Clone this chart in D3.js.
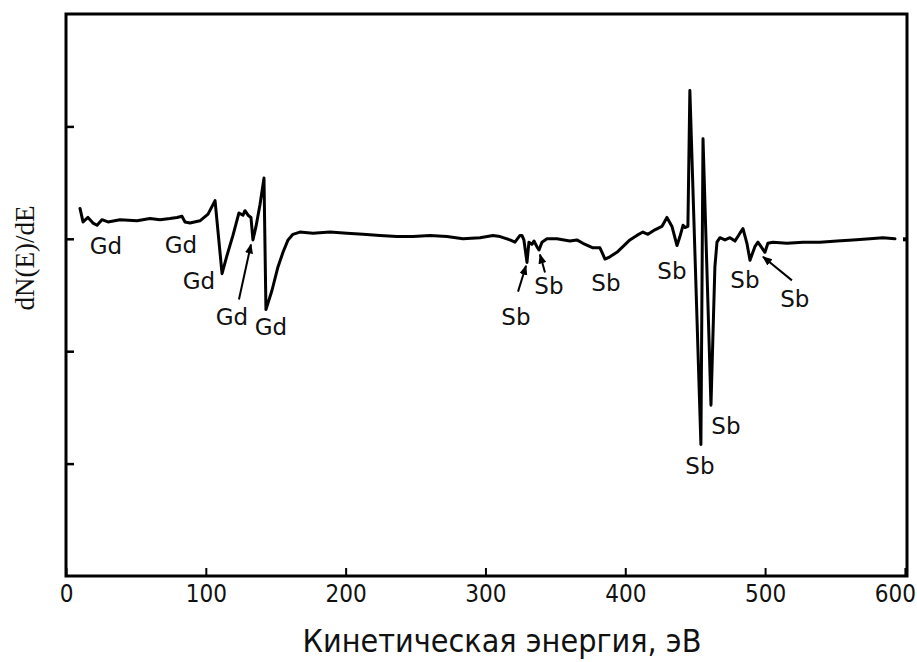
<!DOCTYPE html>
<html>
<head>
<meta charset="utf-8">
<script src="https://cdn.jsdelivr.net/npm/d3@7"></script>
<style>
    body { margin: 0; background: #fff; }
    svg { display: block; }
</style>
</head>
<body>
<svg></svg>
<script>
(() => {
    const energy = [10.0, 12.2, 15.7, 19.3, 22.2, 25.7, 30.0, 38.6, 50.8, 60.1, 67.2, 74.4, 79.4, 83.0, 85.1, 88.7,
        95.8, 101.6, 106.6, 111.6, 115.1, 119.4, 123.7, 126.6, 128.0, 130.2, 132.3, 133.7, 135.9, 138.7, 141.6, 143.0,
        147.3, 151.6, 155.2, 158.8, 162.3, 167.3, 176.6, 188.8, 201.0, 212.4, 224.6, 236.7, 248.2, 260.3, 272.5, 283.9,
        296.1, 305.4, 310.4, 317.5, 321.1, 324.7, 326.1, 327.5, 329.7, 331.1, 333.2, 334.7, 336.8, 338.3, 340.4, 344.0,
        351.1, 360.4, 365.4, 369.7, 376.9, 381.9, 385.5, 389.0, 394.0, 398.3, 403.3, 408.3, 412.6, 416.2, 421.2, 426.2,
        429.8, 433.4, 437.0, 439.1, 441.3, 442.7, 444.8, 446.2, 454.1, 455.6, 461.3, 464.1, 465.6, 467.7, 471.3, 474.9,
        478.5, 482.0, 484.2, 487.0, 489.2, 492.7, 494.9, 497.7, 499.9, 502.0, 505.6, 515.6, 527.1, 539.2, 551.4, 562.8,
        575.0, 584.3, 592.9];

    const signal = [3.27, 3.15, 3.19, 3.14, 3.12, 3.17, 3.15, 3.17, 3.16, 3.18, 3.17, 3.18, 3.19, 3.20, 3.15, 3.14,
        3.16, 3.22, 3.34, 2.69, 2.85, 3.03, 3.23, 3.21, 3.25, 3.21, 3.19, 2.99, 3.11, 3.30, 3.54, 2.37,
        2.54, 2.75, 2.88, 2.99, 3.04, 3.06, 3.05, 3.06, 3.05, 3.04, 3.03, 3.02, 3.02, 3.03, 3.02, 3.00,
        3.01, 3.03, 3.02, 2.99, 2.97, 3.03, 3.03, 2.99, 2.79, 2.97, 2.95, 2.98, 2.93, 2.90, 2.97, 3.00,
        3.00, 2.98, 2.99, 2.96, 2.92, 2.92, 2.82, 2.84, 2.88, 2.93, 2.99, 3.03, 3.06, 3.04, 3.08, 3.11,
        3.19, 3.11, 2.94, 3.02, 3.12, 3.10, 3.11, 4.32, 1.17, 3.89, 1.52, 2.75, 2.97, 3.01, 2.99, 3.01,
        2.98, 3.05, 3.09, 2.96, 2.81, 2.93, 2.97, 2.92, 2.88, 2.96, 2.97, 2.96, 2.97, 2.97, 2.98, 2.99,
        3.00, 3.01, 3.00];

    const xTicks = [0, 100, 200, 300, 400, 500, 600];
    const yTicks = [1, 2, 3, 4];

    // peak labels: element, energy, level
    const peakLabels = ["Gd", "Gd", "Gd", "Gd", "Gd", "Sb", "Sb", "Sb", "Sb", "Sb", "Sb", "Sb", "Sb"];
    const peakLabelX = [28.6, 82.2, 95.1, 118.7, 146.6, 321.8, 345.4, 386.2, 433.4, 453.4, 472.0, 485.6, 521.3];
    const peakLabelY = [2.94, 2.95, 2.63, 2.31, 2.22, 2.31, 2.58, 2.61, 2.72, 0.98, 1.34, 2.64, 2.47];

    // arrows: [fromX, fromY, toX, toY]
    const arrows = [
        [123.7, 2.46, 132.3, 2.95],
        [323.3, 2.53, 329.0, 2.76],
        [342.6, 2.70, 339.0, 2.86],
        [519.2, 2.63, 498.5, 2.84]
    ];

    const width = 917;
    const height = 662;
    const margin = { top: 14, right: 10, bottom: 86, left: 66 };

    const xScale = d3.scaleLinear()
        .domain([0, 601.5])
        .range([margin.left, width - margin.right]);

    const yScale = d3.scaleLinear()
        .domain([0, 5])
        .range([height - margin.bottom, margin.top]);

    const svg = d3.select("svg")
        .attr("width", width)
        .attr("height", height);

    svg.append("defs")
        .append("marker")
        .attr("id", "arrowhead")
        .attr("viewBox", "0 0 10 10")
        .attr("refX", 9)
        .attr("refY", 5)
        .attr("markerWidth", 5)
        .attr("markerHeight", 5)
        .attr("markerUnits", "strokeWidth")
        .attr("orient", "auto")
        .append("path")
        .attr("d", "M0,1 L10,5 L0,9 Z")
        .attr("fill", "#000");

    const xAxis = d3.axisBottom(xScale)
        .tickValues(xTicks)
        .tickSizeInner(-8)
        .tickSizeOuter(0)
        .tickPadding(9);

    const gx = svg.append("g")
        .attr("transform", `translate(0, ${yScale(0)})`)
        .call(xAxis);
    gx.select(".domain").remove();
    gx.selectAll("line").attr("stroke", "#000").attr("stroke-width", 2);
    gx.selectAll("text")
        .attr("fill", "#111")
        .attr("dx", d => d === 600 ? -10 : 0)
        .style("font-family", "'Liberation Sans Narrow', 'DejaVu Sans Condensed', sans-serif")
        .style("font-size", "24px");

    const gy = svg.append("g")
        .attr("transform", `translate(${xScale(0)}, 0)`)
        .call(d3.axisLeft(yScale).tickValues(yTicks).tickSizeInner(-8).tickSizeOuter(0).tickFormat(""));
    gy.select(".domain").remove();
    gy.selectAll("line").attr("stroke", "#000").attr("stroke-width", 2.5);

    const gr = svg.append("g")
        .attr("transform", `translate(${xScale(601.5)}, 0)`)
        .call(d3.axisRight(yScale).tickValues([3]).tickSizeInner(-4).tickSizeOuter(0).tickFormat(""));
    gr.select(".domain").remove();
    gr.selectAll("line").attr("stroke", "#000").attr("stroke-width", 4);

    // frame
    svg.append("rect")
        .attr("x", xScale(0))
        .attr("y", yScale(5))
        .attr("width", xScale(601.5) - xScale(0))
        .attr("height", yScale(0) - yScale(5))
        .attr("fill", "none")
        .attr("stroke", "#000")
        .attr("stroke-width", 3);

    const line = d3.line()
        .x((d, i) => xScale(energy[i]))
        .y(d => yScale(d));

    svg.append("path")
        .datum(signal)
        .attr("fill", "none")
        .attr("stroke", "#000")
        .attr("stroke-width", 3)
        .attr("stroke-linejoin", "round")
        .attr("stroke-linecap", "round")
        .attr("d", line);

    svg.selectAll("text.peak")
        .data(peakLabels)
        .enter()
        .append("text")
        .attr("class", "peak")
        .attr("x", (d, i) => xScale(peakLabelX[i]))
        .attr("y", (d, i) => yScale(peakLabelY[i]))
        .attr("dy", "0.36em")
        .attr("text-anchor", "middle")
        .style("font-family", "'DejaVu Sans', Verdana, sans-serif")
        .style("font-size", "23px")
        .attr("fill", "#111")
        .text(d => d);

    svg.selectAll("line.arrow")
        .data(arrows)
        .enter()
        .append("line")
        .attr("class", "arrow")
        .attr("x1", d => xScale(d[0]))
        .attr("y1", d => yScale(d[1]))
        .attr("x2", d => xScale(d[2]))
        .attr("y2", d => yScale(d[3]))
        .attr("stroke", "#000")
        .attr("stroke-width", 2)
        .attr("marker-end", "url(#arrowhead)");

    svg.append("text")
        .attr("x", 502)
        .attr("y", 652)
        .attr("text-anchor", "middle")
        .style("font-family", "'Liberation Sans Narrow', 'DejaVu Sans Condensed', sans-serif")
        .style("font-size", "32px")
        .attr("fill", "#111")
        .text("Кинетическая энергия, эВ");

    svg.append("text")
        .attr("transform", "translate(34, 258) rotate(-90)")
        .attr("text-anchor", "middle")
        .style("font-family", "'Liberation Serif', 'Times New Roman', serif")
        .style("font-size", "27px")
        .attr("fill", "#111")
        .text("dN(E)/dE");
})();
</script>
</body>
</html>
